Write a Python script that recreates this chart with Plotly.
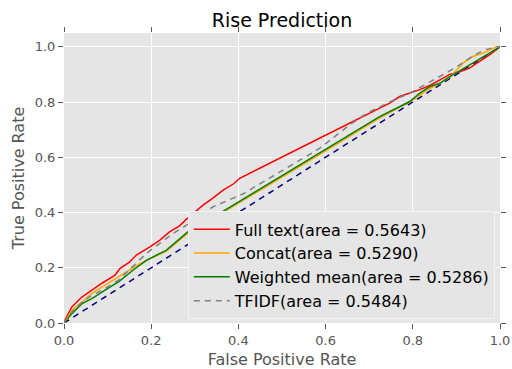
import plotly.graph_objects as go

# Full text
full_fpr = [0, 0.002, 0.018, 0.041, 0.064, 0.086, 0.117, 0.128, 0.15, 0.166, 0.197, 0.22, 0.242, 0.265,
            0.281, 0.307, 0.319, 0.34, 0.365, 0.39, 0.403, 0.586, 0.678, 0.724, 0.747, 0.77, 0.793, 0.816,
            0.839, 0.862, 0.885, 0.908, 0.93, 0.953, 0.976, 1.0]
full_tpr = [0, 0.01, 0.058, 0.094, 0.119, 0.143, 0.173, 0.197, 0.22, 0.246, 0.276, 0.30, 0.33, 0.352,
            0.376, 0.409, 0.427, 0.45, 0.481, 0.505, 0.524, 0.669, 0.741, 0.78, 0.796, 0.82, 0.832, 0.845,
            0.86, 0.88, 0.9, 0.91, 0.923, 0.947, 0.971, 1.0]

# Concat
concat_fpr = [0, 0.018, 0.041, 0.064, 0.094, 0.125, 0.143, 0.174, 0.2, 0.235, 0.284, 0.357, 0.586,
              0.724, 0.793, 0.839, 0.862, 0.885, 0.915, 0.938, 0.961, 0.992, 1.0]
concat_tpr = [0, 0.046, 0.076, 0.107, 0.137, 0.167, 0.185, 0.215, 0.235, 0.26, 0.325, 0.393, 0.61,
              0.743, 0.80, 0.85, 0.868, 0.89, 0.941, 0.965, 0.977, 1.0, 1.0]

# Weighted mean
wmean_fpr = [0, 0.018, 0.041, 0.064, 0.094, 0.125, 0.158, 0.189, 0.235, 0.284, 0.357, 0.586, 0.724,
             0.793, 0.816, 0.839, 0.862, 0.885, 0.908, 0.93, 0.953, 0.976, 1.0]
wmean_tpr = [0, 0.034, 0.07, 0.088, 0.119, 0.149, 0.191, 0.227, 0.264, 0.33, 0.397, 0.614, 0.747,
             0.802, 0.832, 0.856, 0.868, 0.892, 0.913, 0.935, 0.953, 0.977, 1.0]

# TFIDF
tfidf_fpr = [0, 0.018, 0.041, 0.064, 0.094, 0.125, 0.189, 0.25, 0.281, 0.342, 0.41, 0.586, 0.655,
             0.694, 0.747, 0.80, 0.827, 0.847, 0.873, 0.896, 0.919, 0.942, 0.965, 0.992, 1.0]
tfidf_tpr = [0, 0.04, 0.075, 0.1, 0.125, 0.155, 0.252, 0.324, 0.354, 0.421, 0.467, 0.632, 0.717,
             0.759, 0.80, 0.838, 0.862, 0.88, 0.905, 0.923, 0.947, 0.971, 0.989, 1.0, 1.0]

chance = [0, 1]

labels = ["Full text(area = 0.5643)", "Concat(area = 0.5290)",
          "Weighted mean(area = 0.5286)", "TFIDF(area = 0.5484)"]
ticks = [0.0, 0.2, 0.4, 0.6, 0.8, 1.0]
tick_text = ["0.0", "0.2", "0.4", "0.6", "0.8", "1.0"]

fig = go.Figure()
fig.add_trace(go.Scatter(x=chance, y=chance, mode="lines", showlegend=False,
                         line=dict(color="#000080", width=1.5, dash="6px,5px")))
series = [
    (full_fpr, full_tpr, "#FF0000", "solid"),
    (concat_fpr, concat_tpr, "#FFA500", "solid"),
    (wmean_fpr, wmean_tpr, "#008000", "solid"),
    (tfidf_fpr, tfidf_tpr, "#808080", "6px,5px"),
]
for i, (fx, ty, col, dash) in enumerate(series):
    fig.add_trace(go.Scatter(x=fx, y=ty, mode="lines", name=labels[i], legendgroup=str(i),
                             line=dict(color=col, width=1.5, dash=dash)))

axis_common = dict(
    showgrid=True, gridcolor="white", gridwidth=1, zeroline=False,
    ticks="outside", ticklen=5, tickcolor="#555555", tickwidth=1,
    showline=True, linecolor="rgba(0,0,0,0)", mirror="ticks", automargin=False,
    tickfont=dict(family="DejaVu Sans", size=13, color="#555555"),
    tickvals=ticks, ticktext=tick_text,
)
fig.update_xaxes(range=[0, 1], title=dict(text="False Positive Rate", standoff=12,
                 font=dict(family="DejaVu Sans", size=16, color="#555555")), **axis_common)
fig.update_yaxes(range=[0, 1.05], title=dict(text="True Positive Rate", standoff=6,
                 font=dict(family="DejaVu Sans", size=16, color="#555555")), **axis_common)

fig.update_layout(
    width=512, height=369,
    margin=dict(l=64, r=12, t=33, b=46, autoexpand=False),
    plot_bgcolor="#E5E5E5", paper_bgcolor="white",
    title=dict(text="Rise Prediction", x=0.5, xref="paper", xanchor="center",
               y=1 - 20 / 369, yref="container", yanchor="middle",
               font=dict(family="DejaVu Sans", size=19, color="black")),
    legend=dict(x=0.284, y=0.385, xanchor="left", yanchor="top",
                bgcolor="#E5E5E5", bordercolor="#F4F4F4", borderwidth=1,
                font=dict(family="DejaVu Sans", size=16, color="black"),
                tracegroupgap=0, itemwidth=36),
    showlegend=True,
)
fig.write_html("out.html")
